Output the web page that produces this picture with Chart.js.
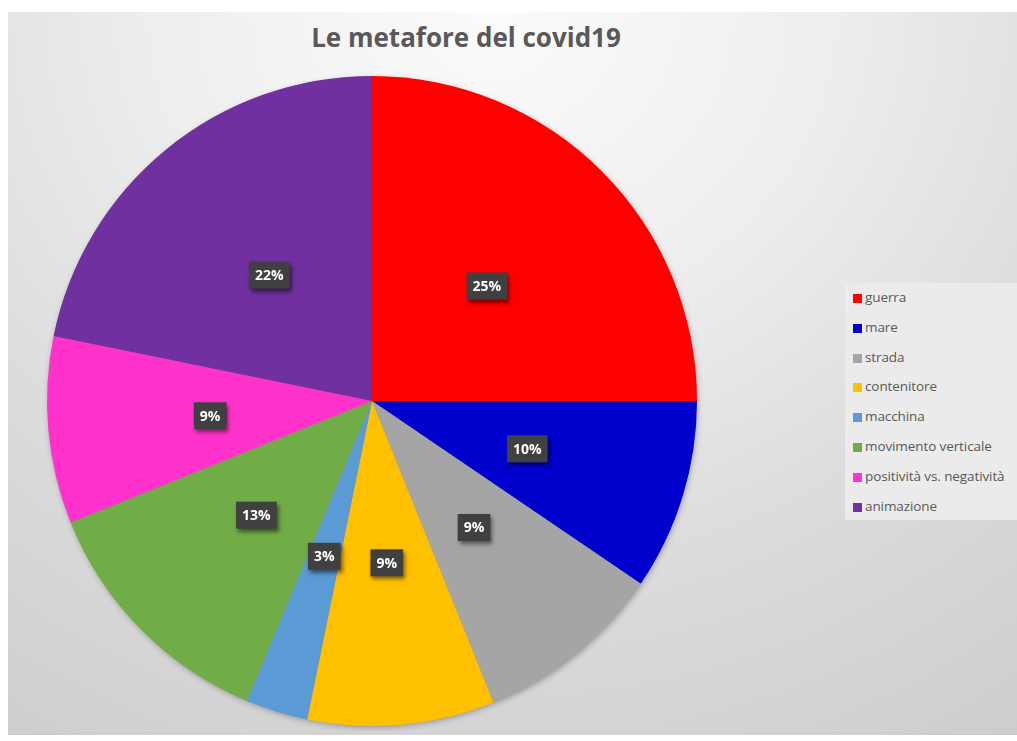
<!DOCTYPE html>
<html>
<head>
<meta charset="utf-8">
<script src="https://cdn.jsdelivr.net/npm/chart.js@4.4.1/dist/chart.umd.min.js"></script>
<style>
  html, body { margin: 0; padding: 0; background: #fff; }
  #wrap { position: relative; width: 1017px; height: 741px; overflow: hidden; }
  #bg {
    position: absolute; left: 8px; top: 12px; width: 1009px; height: 723px;
    background: radial-gradient(ellipse 95% 120% at 48% 0%, #fbfbfb 0%, #eeeeee 35%, #dcdcdc 65%, #cdcdcd 100%);
  }
  #title {
    position: absolute; left: 0; top: 21px; width: 932px; text-align: center;
    font: bold 26px "Open Sans", Lato, sans-serif; color: #595959; line-height: 32px;
  }
  #lineChart { position: absolute; left: 0; top: 0; }
  #legend {
    position: absolute; left: 845px; top: 283px; width: 180px; height: 237px;
    background: #ebebeb; font: 13.5px "Open Sans", Lato, sans-serif; color: #595959;
  }
  #legend ul { list-style: none; margin: 0; padding: 6px 0 0 8px; }
  #legend li { height: 29.8px; line-height: 16px; white-space: nowrap; letter-spacing: -0.1px; }
  #legend span.box { display: inline-block; width: 9px; height: 9px; margin-right: 3px; vertical-align: -1px; }
</style>
</head>
<body>
<div id="wrap">
  <div id="bg"></div>
  <div id="title">Le metafore del covid19</div>
  <canvas id="lineChart" width="1017" height="741"></canvas>
  <div id="legend"></div>
</div>
<script>
var categories = ['guerra', 'mare', 'strada', 'contenitore', 'macchina', 'movimento verticale', 'positività vs. negatività', 'animazione'];
var values = [25, 9.5, 9.4, 9.3, 3.1, 12.6, 9.3, 21.8];
var colors = ['#ff0000', '#0000cc', '#a5a5a5', '#ffc000', '#5b9bd5', '#70ad47', '#ff33cc', '#7030a0'];

// shadow under the whole pie
var pieShadow = {
  id: 'pieShadow',
  beforeDatasetsDraw: function(chart) {
    var arc = chart.getDatasetMeta(0).data[0];
    if (!arc) return;
    var c = chart.ctx;
    c.save();
    c.shadowColor = 'rgba(0,0,0,0.35)';
    c.shadowBlur = 6;
    c.shadowOffsetX = 1;
    c.shadowOffsetY = 2;
    c.fillStyle = '#888';
    c.beginPath();
    c.arc(arc.x, arc.y, arc.outerRadius - 1, 0, Math.PI * 2);
    c.fill();
    c.restore();
  }
};

// percentage labels in dark boxes
var pctLabels = {
  id: 'pctLabels',
  afterDatasetsDraw: function(chart) {
    var c = chart.ctx;
    var total = values.reduce(function(a, b) { return a + b; }, 0);
    chart.getDatasetMeta(0).data.forEach(function(arc, i) {
      var p = arc.tooltipPosition();
      var txt = Math.round(values[i] / total * 100) + '%';
      c.save();
      c.font = 'bold 14px "Open Sans", Lato, sans-serif';
      var w = c.measureText(txt).width + 12;
      var h = 27;
      c.shadowColor = 'rgba(0,0,0,0.5)';
      c.shadowBlur = 4;
      c.shadowOffsetX = 2;
      c.shadowOffsetY = 3;
      c.fillStyle = '#404040';
      c.fillRect(p.x - w / 2, p.y - h / 2, w, h);
      c.shadowColor = 'transparent';
      c.fillStyle = '#ffffff';
      c.textAlign = 'center';
      c.textBaseline = 'middle';
      c.fillText(txt, p.x, p.y + 1);
      c.restore();
    });
  }
};

var ctx = document.getElementById('lineChart');

var myChart = new Chart(ctx, {
  type: 'pie',
  data: {
    labels: categories,
    datasets: [{
      data: values,
      backgroundColor: colors,
      borderWidth: 0
    }]
  },
  options: {
    responsive: false,
    animation: false,
    layout: {
      padding: { left: 47, right: 320, top: 76, bottom: 15 }
    },
    plugins: {
      legend: { display: false },
      title: { display: false },
      tooltip: { enabled: false }
    }
  },
  plugins: [pieShadow, pctLabels]
});

// html legend built from the same arrays
var ul = document.createElement('ul');
categories.forEach(function(name, i) {
  var li = document.createElement('li');
  var box = document.createElement('span');
  box.className = 'box';
  box.style.background = colors[i];
  li.appendChild(box);
  li.appendChild(document.createTextNode(name));
  ul.appendChild(li);
});
document.getElementById('legend').appendChild(ul);
</script>
</body>
</html>
